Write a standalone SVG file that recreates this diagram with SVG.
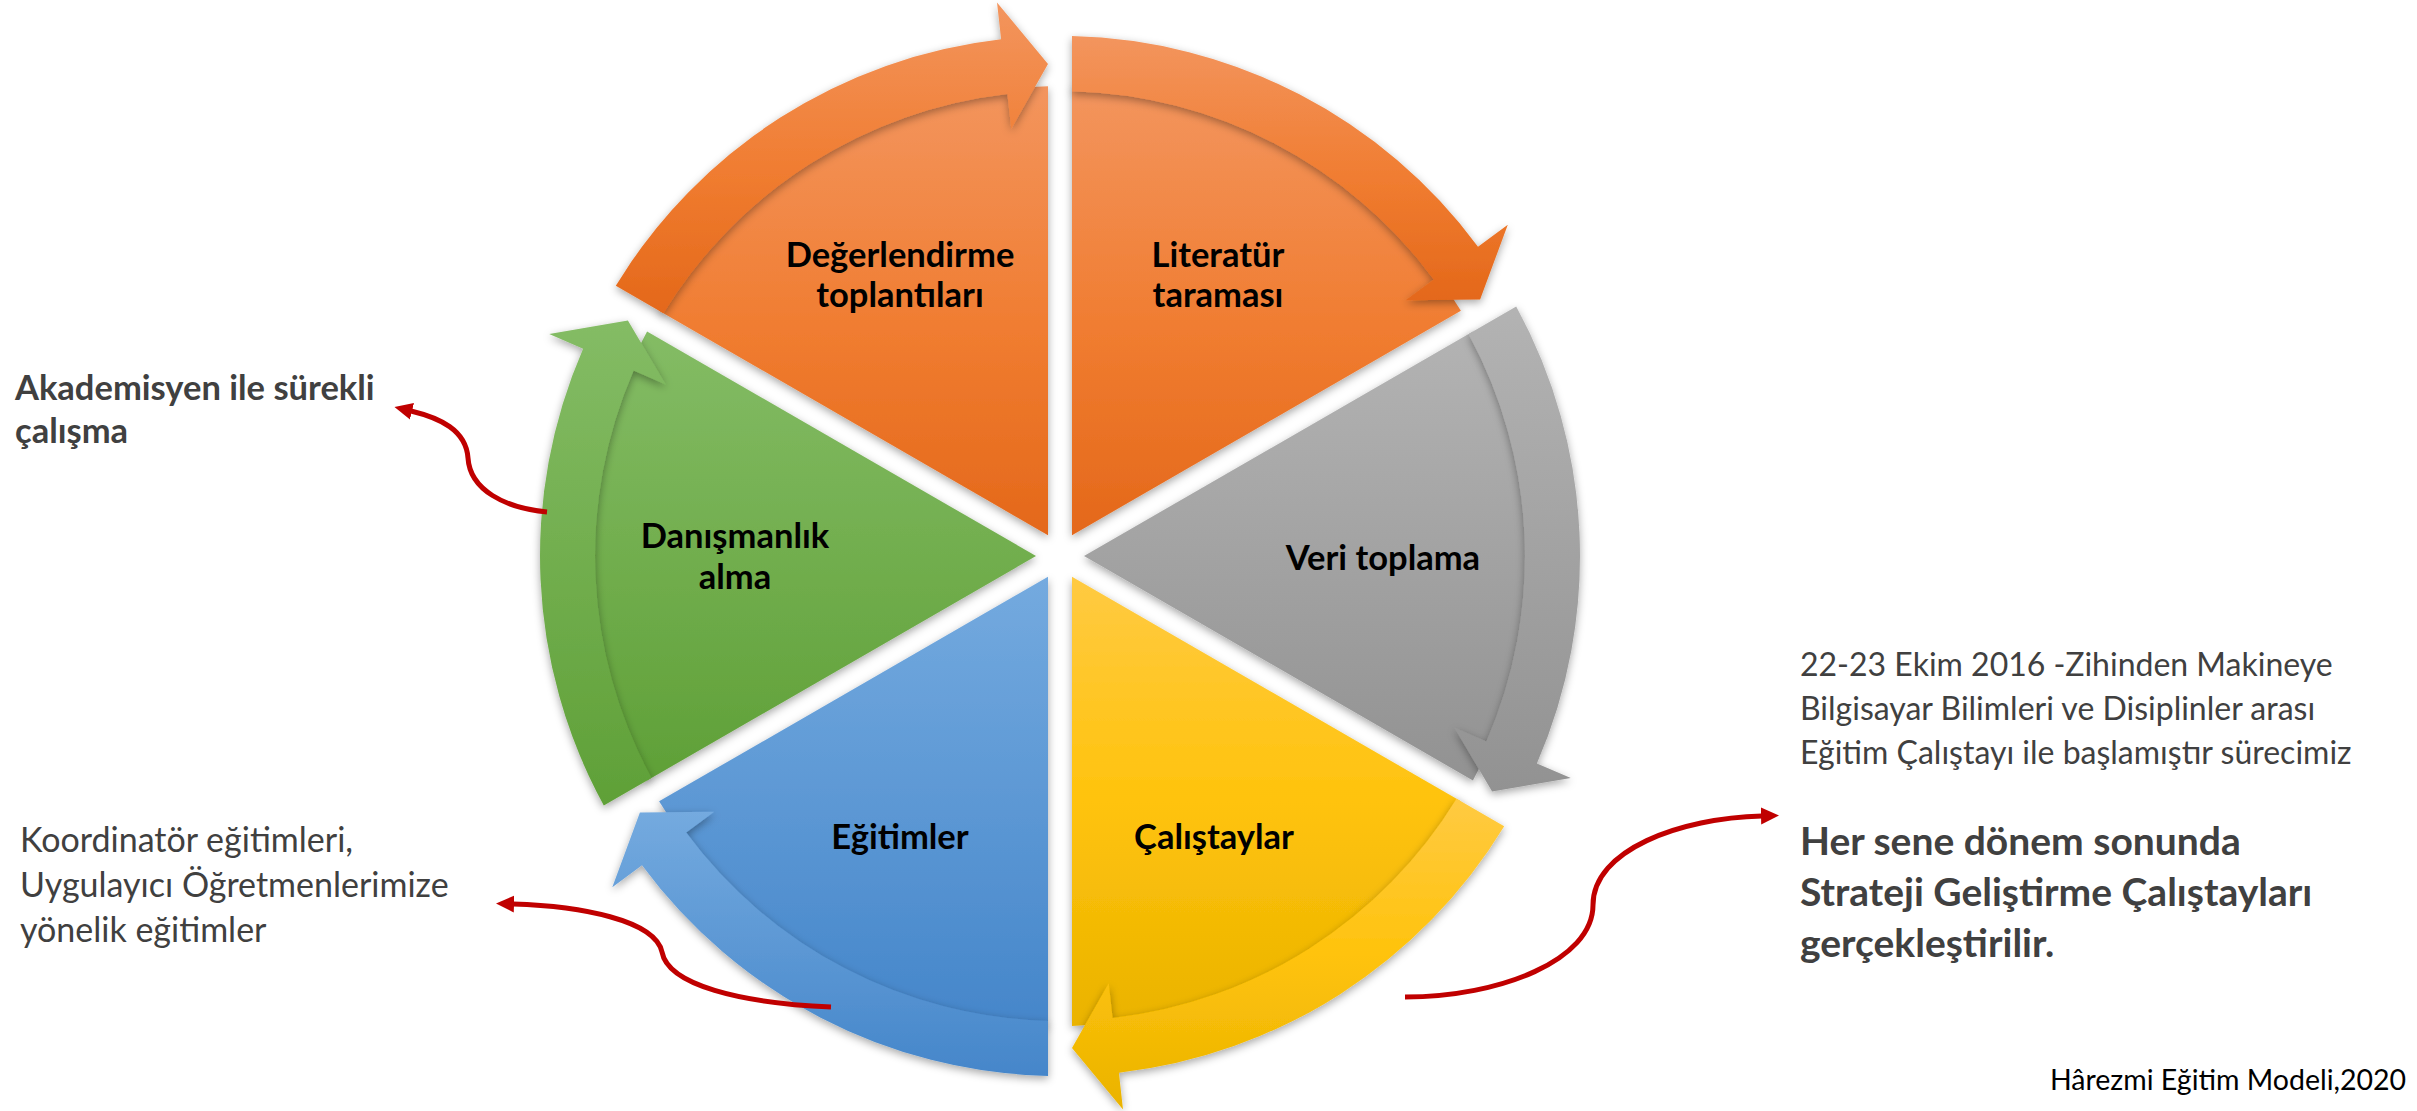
<svg xmlns="http://www.w3.org/2000/svg" width="2417" height="1111" viewBox="0 0 2417 1111">
<defs>
  <linearGradient id="gOr" x1="0" y1="0" x2="0" y2="1">
    <stop offset="0" stop-color="#F3955E"/><stop offset="0.55" stop-color="#F07C30"/><stop offset="1" stop-color="#E4681A"/>
  </linearGradient>
  <linearGradient id="gGr" x1="0" y1="0" x2="0" y2="1">
    <stop offset="0" stop-color="#B3B3B3"/><stop offset="1" stop-color="#929292"/>
  </linearGradient>
  <linearGradient id="gYe" x1="0" y1="0" x2="0" y2="1">
    <stop offset="0" stop-color="#FFCA42"/><stop offset="0.5" stop-color="#FFC30C"/><stop offset="1" stop-color="#EAB300"/>
  </linearGradient>
  <linearGradient id="gBl" x1="0" y1="0" x2="0" y2="1">
    <stop offset="0" stop-color="#74AADF"/><stop offset="1" stop-color="#4586CA"/>
  </linearGradient>
  <linearGradient id="gGn" x1="0" y1="0" x2="0" y2="1">
    <stop offset="0" stop-color="#84BC65"/><stop offset="1" stop-color="#5FA037"/>
  </linearGradient>
  <filter id="sh" x="-15%" y="-15%" width="130%" height="130%">
    <feDropShadow dx="0" dy="3" stdDeviation="4" flood-color="#000" flood-opacity="0.35"/>
  </filter>
  <marker id="ah" markerUnits="userSpaceOnUse" markerWidth="20" markerHeight="20" viewBox="0 0 20 20" refX="1" refY="9" orient="auto">
    <path d="M0,0.5 L18,9 L0,17.5 Z" fill="#C00000"/>
  </marker>
</defs>
<style>
  .lbl{font-family:Lato,"Liberation Sans",sans-serif;font-weight:700;font-size:34.5px;fill:#000;text-anchor:middle}
  .nb{font-family:Lato,"Liberation Sans",sans-serif;font-weight:700;fill:#404040}
  .nr{font-family:Lato,"Liberation Sans",sans-serif;font-weight:400;fill:#404040}
  .body,.band{filter:url(#sh)}
  .con{fill:none;stroke:#C00000;stroke-width:5;marker-end:url(#ah)}
</style>
<rect width="2417" height="1111" fill="#fff"/>

<g id="node-degerlendirme">
  <path class="body" fill="url(#gOr)" d="M1048,535.2 L659.1,310.7 A470,470 0 0 1 1048,86.2 Z"/>
  <path class="band" fill="url(#gOr)" d="M615.8,285.7 A520,520 0 0 1 1001.1,39.3 L997,2.6 L1048,64 L1011.3,128.8 L1007.4,94 A465,465 0 0 0 663.4,313.2 Z"/>
  <text class="lbl" x="900" y="267">Değerlendirme</text>
  <text class="lbl" x="900" y="307">toplantıları</text>
</g>

<g id="node-literatur">
  <path class="body" fill="url(#gOr)" d="M1072,535.2 L1072,86.2 A470,470 0 0 1 1460.9,310.7 Z"/>
  <path class="band" fill="url(#gOr)" d="M1072,36.1 A520,520 0 0 1 1478,246.7 L1507.8,224.7 L1480.1,299.6 L1405.7,300.2 L1433.8,279.4 A465,465 0 0 0 1072,91.2 Z"/>
  <text class="lbl" x="1218" y="267">Literatür</text>
  <text class="lbl" x="1218" y="307">taraması</text>
</g>

<g id="node-veri">
  <path class="body" fill="url(#gGr)" d="M1084,556 L1472.9,331.5 A470,470 0 0 1 1472.9,780.5 Z"/>
  <path class="band" fill="url(#gGr)" d="M1516.2,306.5 A520,520 0 0 1 1536.9,763.4 L1570.8,778.1 L1492.1,791.6 L1454.3,727.5 L1486.4,741.4 A465,465 0 0 0 1468.6,334 Z"/>
  <text class="lbl" x="1383" y="570">Veri toplama</text>
</g>

<g id="node-calistaylar">
  <path class="body" fill="url(#gYe)" d="M1072,576.8 L1460.9,801.3 A470,470 0 0 1 1072,1025.9 Z"/>
  <path class="band" fill="url(#gYe)" d="M1504.2,826.3 A520,520 0 0 1 1118.9,1072.7 L1123,1109.4 L1072,1048 L1108.7,983.2 L1112.6,1018 A465,465 0 0 0 1456.6,798.8 Z"/>
  <text class="lbl" x="1214" y="849">Çalıştaylar</text>
</g>

<g id="node-egitimler">
  <path class="body" fill="url(#gBl)" d="M1048,576.8 L1048,1025.9 A470,470 0 0 1 659.1,801.3 Z"/>
  <path class="band" fill="url(#gBl)" d="M1048,1075.9 A520,520 0 0 1 642,865.3 L612.3,887.3 L639.9,812.4 L714.3,811.8 L686.2,832.6 A465,465 0 0 0 1048,1020.9 Z"/>
  <text class="lbl" x="900" y="849">Eğitimler</text>
</g>

<g id="node-danismanlik">
  <path class="body" fill="url(#gGn)" d="M1036,556 L647.1,780.5 A470,470 0 0 1 647.1,331.5 Z"/>
  <path class="band" fill="url(#gGn)" d="M603.8,805.5 A520,520 0 0 1 583.1,348.7 L549.2,333.9 L627.9,320.4 L665.7,384.5 L633.6,370.6 A465,465 0 0 0 651.4,778 Z"/>
  <text class="lbl" x="735" y="548">Danışmanlık</text>
  <text class="lbl" x="735" y="589">alma</text>
</g>

<g id="connectors">
  <path class="con" d="M547,512 C505,508 470,490 468,458 C466,430 440,418 411,411"/>
  <path class="con" d="M831,1007 C740,1003 668,985 662,952 C655,920 580,906 513,904"/>
  <path class="con" d="M1405,997 C1500,997 1593,960 1593,905 C1593,850 1680,818 1762,816"/>
</g>

<g id="note-akademisyen">
  <text class="nb" font-size="34.5" x="15" y="400">Akademisyen ile sürekli</text>
  <text class="nb" font-size="34.5" x="15" y="443">çalışma</text>
</g>
<g id="note-koordinator">
  <text class="nr" font-size="34" x="20" y="852">Koordinatör eğitimleri,</text>
  <text class="nr" font-size="34" x="20" y="897">Uygulayıcı Öğretmenlerimize</text>
  <text class="nr" font-size="34" x="20" y="942">yönelik eğitimler</text>
</g>
<g id="note-ekim">
  <text class="nr" font-size="32" x="1800" y="676">22-23 Ekim 2016 -Zihinden Makineye</text>
  <text class="nr" font-size="32" x="1800" y="720">Bilgisayar Bilimleri ve Disiplinler arası</text>
  <text class="nr" font-size="32" x="1800" y="764">Eğitim Çalıştayı ile başlamıştır sürecimiz</text>
</g>
<g id="note-strateji">
  <text class="nb" font-size="39" x="1800" y="855">Her sene dönem sonunda</text>
  <text class="nb" font-size="39" x="1800" y="906">Strateji Geliştirme Çalıştayları</text>
  <text class="nb" font-size="39" x="1800" y="957">gerçekleştirilir.</text>
</g>
<g id="note-kaynak">
  <text class="nr" font-size="28.5" x="2050" y="1090" style="fill:#000">Hârezmi Eğitim Modeli,2020</text>
</g>
</svg>
